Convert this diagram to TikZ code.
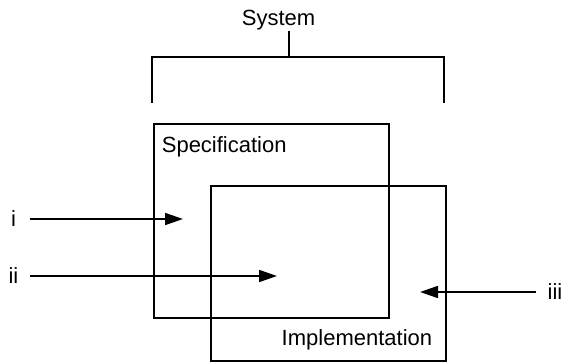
\documentclass[tikz,border=0pt]{standalone}
\usepackage{fontspec}
\setmainfont{Liberation Sans}
\usepackage{tikz}
\usetikzlibrary{positioning,arrows.meta}

\begin{document}
\begin{tikzpicture}[x=1pt,y=-1pt, font=\fontsize{22}{26}\selectfont,
    line width=1.7pt,
    flow/.style={-{Triangle[length=18pt,width=12pt]}},
    setbox/.style={draw, rectangle, inner sep=0pt, anchor=north west},
    lbl/.style={inner sep=0pt}]
    \useasboundingbox (0,0) rectangle (564,363);

    \node[lbl, anchor=base] (sys) at (278.5,26) {System};
    \coordinate (stem) at (289,31);
    \coordinate (brace-l) at (152,103);
    \coordinate (brace-r) at (444,103);
    \draw (stem) -- (stem |- 0,57);
    \draw (brace-l) -- (brace-l |- 0,57) -- (brace-r |- 0,57) -- (brace-r);

    \node[setbox, minimum width=235pt, minimum height=194pt] (spec) at (153,123) {};
    \node[setbox, minimum width=235pt, minimum height=175pt] (impl) at (210,185) {};
    \node[lbl, anchor=base west] (spec-lbl) at (161,153) {Specification};
    \node[lbl, anchor=base east] (impl-lbl) at (433,345) {Implementation};

    \node[lbl] (in-i) at (13.5,219) {i};
    \node[lbl] (in-ii) at (13.5,276) {ii};
    \node[lbl] (in-iii) at (555,292) {iii};
    \coordinate (tip-i) at (183,219);
    \coordinate (tip-ii) at (277,276);
    \coordinate (tip-iii) at (420,292);

    \draw[flow] ([xshift=13pt]in-i.east) -- (tip-i);
    \draw[flow] ([xshift=10.5pt]in-ii.east) -- (tip-ii);
    \draw[flow] ([xshift=-10.5pt]in-iii.west) -- (tip-iii);
\end{tikzpicture}
\end{document}
